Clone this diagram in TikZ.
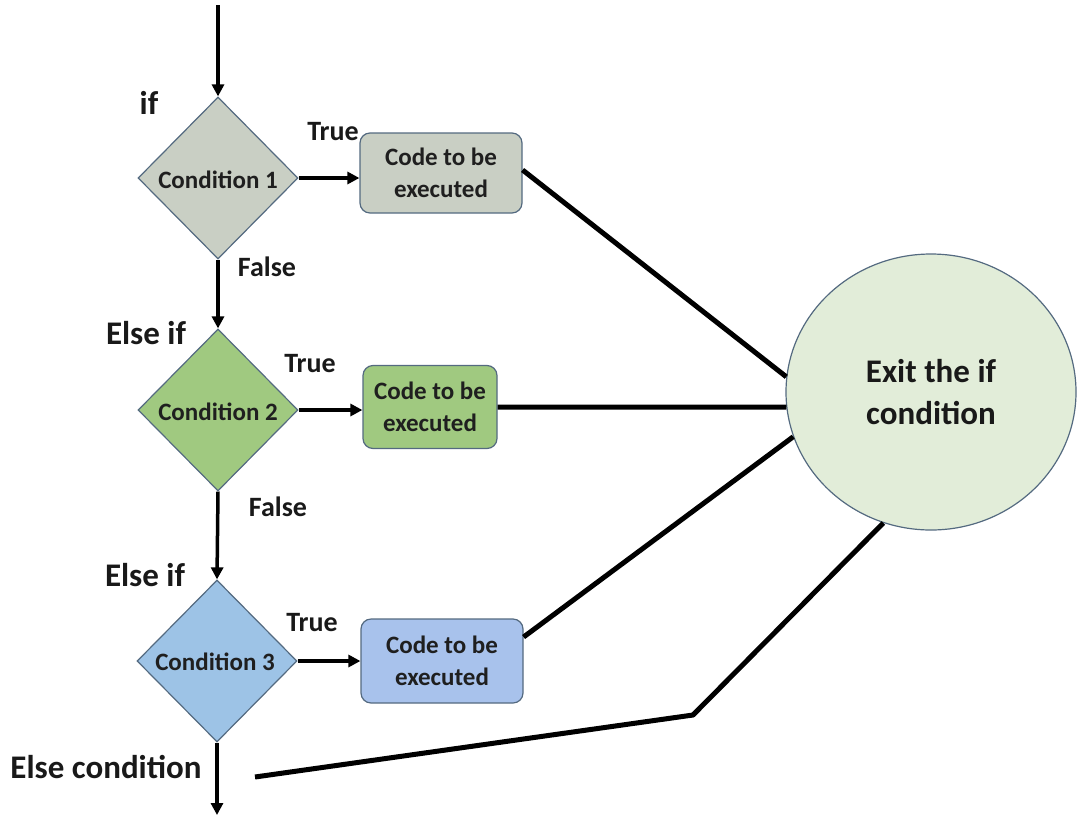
\documentclass[tikz,border=0pt]{standalone}
\usepackage{fontspec}
\setmainfont{Carlito}
\usetikzlibrary{shapes.geometric,arrows.meta}
\definecolor{gA}{RGB}{201,207,196}
\definecolor{gB}{RGB}{160,201,128}
\definecolor{gC}{RGB}{157,195,230}
\definecolor{gC2}{RGB}{168,194,236}
\definecolor{exitc}{RGB}{226,237,217}
\definecolor{edgec}{RGB}{84,106,128}
\tikzset{
  cond/.style={diamond, draw=edgec, line width=1.2pt, inner sep=0pt, minimum width=160pt, minimum height=162pt},
  condtext/.style={font=\bfseries\fontsize{25}{28}\selectfont, text=black!88},
  codebox/.style={draw=edgec, line width=1.2pt, rounded corners=10pt, align=center, font=\bfseries\fontsize{25}{32}\selectfont, text=black!88},
  lbl/.style={font=\bfseries\fontsize{28}{32}\selectfont, text=black!90},
  biglbl/.style={font=\bfseries\fontsize{33}{36}\selectfont, text=black!90},
  big/.style={font=\bfseries\fontsize{33}{42}\selectfont, text=black!90},
  arr/.style={line width=3.5pt, -{Triangle[length=12pt,width=12pt]}},
  thick line/.style={line width=5pt},
}
\begin{document}
\begin{tikzpicture}[x=1pt,y=-1pt]
\useasboundingbox (0,0) rectangle (1078,817);
% diamonds
\node[cond, fill=gA] (d1) at (218,178) {};
\node[condtext] (t1) at (218,180) {Condition 1};
\node[cond, fill=gB] (d2) at (218,410) {};
\node[condtext] (t2) at (218,412) {Condition 2};
\node[cond, fill=gC] (d3) at (217,661) {};
\node[condtext] (t3) at (215,662) {Condition 3};
% boxes
\node[codebox, fill=gA, minimum width=162pt, minimum height=80pt] (b1) at (441,173) {Code to be\\executed};
\node[codebox, fill=gB, minimum width=134pt, minimum height=83pt] (b2) at (430,407) {Code to be\\executed};
\node[codebox, fill=gC2, minimum width=162pt, minimum height=84pt] (b3) at (442,661) {Code to be\\executed};
% exit
\node[ellipse, draw=edgec, line width=1.2pt, fill=exitc, minimum width=290pt, minimum height=276pt, align=center, big] (ex) at (931,392) {Exit the if\\condition};
% labels
\node[biglbl] (lif) at (149,103) {if};
\node[lbl] (tr1) at (333,132) {True};
\node[lbl] (fa1) at (267,267) {False};
\node[biglbl] (lei1) at (146,333) {Else if};
\node[lbl] (tr2) at (310,364) {True};
\node[lbl] (fa2) at (278,507) {False};
\node[biglbl] (lei2) at (145,575) {Else if};
\node[lbl] (tr3) at (312,623) {True};
\node[biglbl] (lel) at (106,767) {Else condition};
% coordinates
\coordinate (top) at (218,5);
\coordinate (bot) at (217,815);
\coordinate (es) at (255,777);
\coordinate (bend) at (693,715);
% arrows
\draw[arr] (top) -- (d1.north);
\draw[arr] (d1.south) -- (d2.north);
\draw[arr] (d2.south) -- (d3.north);
\draw[arr] (d3.south) -- (bot);
\draw[arr] (d1.east) -- (d1.east -| b1.west);
\draw[arr] (d2.east) -- (d2.east -| b2.west);
\draw[arr] (d3.east) -- (d3.east -| b3.west);
% lines to exit
\draw[thick line] ([yshift=3pt]b1.east) -- (ex.174);
\draw[thick line] (b2.east) -- (ex.186);
\draw[thick line] ([yshift=24pt]b3.east) -- (ex.198);
\draw[thick line, line join=round] (es) -- (bend) -- (ex.250);
\end{tikzpicture}
\end{document}
